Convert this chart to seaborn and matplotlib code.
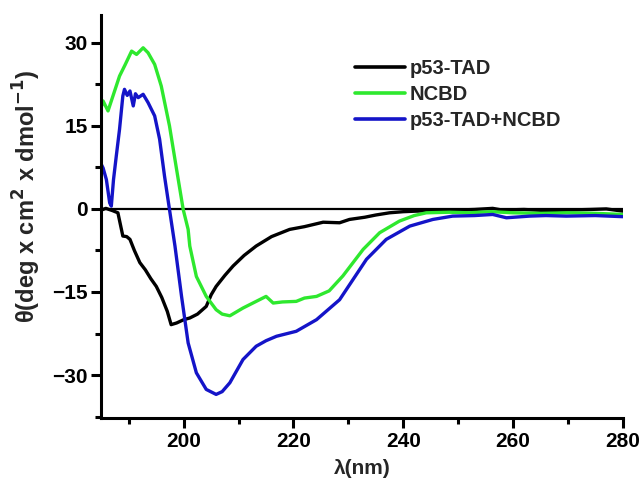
import matplotlib
matplotlib.use("Agg")
import matplotlib.pyplot as plt
import pandas as pd
import seaborn as sns

# values (wavelength in nm, ellipticity)
tad_x = [185.0, 185.8, 187.0, 188.0, 188.9, 189.6, 190.2, 191.0, 192.0, 193.0, 194.0,
         195.0, 196.0, 197.0, 197.7, 198.7, 200.0, 201.1, 202.5, 204.1, 205.0, 205.9,
         207.5, 209.0, 211.0, 213.2, 216.0, 219.3, 222.0, 225.4, 228.4, 230.2, 233.0,
         235.0, 237.5, 240.0, 242.4, 246.0, 250.0, 253.0, 256.3, 258.0, 262.0, 266.0,
         270.0, 274.0, 277.0, 280.0]
tad_y = [-0.2, 0.1, -0.3, -0.7, -4.9, -5.0, -5.5, -7.5, -9.7, -11.0, -12.6,
         -14.0, -16.0, -18.5, -20.9, -20.6, -20.0, -19.7, -19.0, -17.6, -15.5, -14.0,
         -12.0, -10.3, -8.4, -6.7, -5.0, -3.7, -3.2, -2.4, -2.5, -1.9, -1.5,
         -1.1, -0.7, -0.5, -0.4, -0.3, -0.2, -0.1, 0.1, -0.2, -0.1, -0.3,
         -0.2, -0.1, 0.0, -0.4]

ncbd_x = [185.0, 185.3, 186.2, 187.4, 188.3, 189.3, 190.5, 191.4, 192.6, 193.5, 194.7,
          195.9, 197.4, 198.7, 199.9, 200.8, 201.1, 202.3, 204.1, 205.9, 207.0, 208.4,
          210.8, 213.2, 215.0, 216.3, 218.0, 220.5, 222.0, 224.2, 226.5, 229.0, 232.7,
          235.7, 239.3, 242.0, 244.2, 248.4, 252.0, 256.0, 260.0, 265.0, 270.0, 275.0,
          280.0]
ncbd_y = [18.5, 19.5, 17.7, 21.3, 24.0, 26.0, 28.5, 27.9, 29.1, 28.2, 26.1,
          22.2, 15.0, 7.1, -0.1, -3.7, -6.7, -12.2, -15.8, -18.2, -19.0, -19.3,
          -17.9, -16.7, -15.8, -17.0, -16.8, -16.7, -16.1, -15.8, -14.8, -12.1, -7.3,
          -4.3, -2.2, -1.2, -0.7, -0.6, -0.7, -0.5, -0.7, -0.8, -0.7, -0.8,
          -1.0]

mix_x = [185.0, 185.3, 185.9, 186.5, 186.8, 187.2, 187.7, 188.3, 188.9, 189.2, 189.7,
         190.2, 190.8, 191.2, 191.7, 192.6, 193.5, 194.7, 195.6, 196.5, 197.4, 198.4,
         199.6, 200.8, 202.3, 204.1, 205.9, 207.0, 208.4, 210.8, 213.2, 215.0, 216.9,
         220.5, 224.2, 228.4, 233.3, 236.9, 241.2, 245.4, 249.0, 253.0, 256.3, 258.8,
         263.0, 266.0, 269.7, 275.0, 280.0]
mix_y = [8.0, 7.4, 5.3, 1.1, 0.5, 5.3, 9.5, 14.4, 20.4, 21.6, 20.5,
         21.3, 18.6, 20.8, 20.1, 20.7, 19.2, 16.8, 12.6, 5.9, -0.1, -6.7,
         -15.8, -24.2, -29.6, -32.6, -33.5, -33.0, -31.4, -27.2, -24.8, -23.8, -23.0,
         -22.1, -20.0, -16.4, -9.1, -5.5, -3.1, -1.9, -1.3, -1.2, -1.0, -1.6,
         -1.3, -1.2, -1.3, -1.2, -1.4]

labels = ["p53-TAD", "NCBD", "p53-TAD+NCBD"]
colors = ["#000000", "#2ee82e", "#1414c8"]

x_ticks = [200, 220, 240, 260, 280]
y_ticks = [-30, -15, 0, 15, 30]


def build_frame():
    parts = []
    for name, xs, ys in zip(labels, [tad_x, ncbd_x, mix_x], [tad_y, ncbd_y, mix_y]):
        parts.append(pd.DataFrame({"wavelength": xs, "theta": ys, "sample": name}))
    return pd.concat(parts, ignore_index=True)


def main():
    sns.set_theme(style="ticks")
    plt.rcParams["font.family"] = ["Liberation Sans", "DejaVu Sans"]
    plt.rcParams["font.weight"] = "bold"

    df = build_frame()

    fig = plt.figure(figsize=(6.42, 4.88), dpi=100)
    ax = fig.add_axes([0.158, 0.143, 0.812, 0.826])

    ax.axhline(0, color="black", linewidth=1.6, zorder=1)

    sns.lineplot(
        data=df, x="wavelength", y="theta", hue="sample",
        palette=dict(zip(labels, colors)), hue_order=labels,
        estimator=None, sort=False, linewidth=2.4, ax=ax
    )

    ax.set_xlim(185, 280)
    ax.set_ylim(-37.8, 35.0)
    ax.set_xticks(x_ticks)
    ax.set_yticks(y_ticks)
    ax.set_xticks([190, 210, 230, 250, 270], minor=True)
    ax.set_yticks([-37.5, -22.5, -7.5, 7.5, 22.5], minor=True)

    for side in ["top", "right"]:
        ax.spines[side].set_visible(False)
    for side in ["left", "bottom"]:
        ax.spines[side].set_linewidth(2.2)
        ax.spines[side].set_color("black")

    ax.tick_params(which="major", direction="out", length=7, width=2.2,
                   labelsize=15, colors="black", pad=3)
    ax.tick_params(which="minor", direction="out", length=4.5, width=2.2, colors="black")
    for lab in ax.get_xticklabels() + ax.get_yticklabels():
        lab.set_fontweight("bold")

    ax.set_xlabel("λ(nm)", fontsize=15, fontweight="bold", labelpad=6)
    ax.set_ylabel(r"θ(deg x cm$^\mathbf{2}$ x dmol$^\mathbf{-1}$)",
                  fontsize=17, fontweight="bold")
    ax.yaxis.set_label_coords(-0.112, 0.55)

    handles, _ = ax.get_legend_handles_labels()
    for h in handles:
        h.set_linewidth(2.6)
    ax.legend(handles, labels, loc="upper left", bbox_to_anchor=(0.471, 0.91),
              frameon=False, fontsize=14.5, handlelength=2.5, handletextpad=0.2,
              labelspacing=0.33, borderaxespad=0)
    for t in ax.get_legend().get_texts():
        t.set_fontweight("bold")

    fig.savefig("out.png", dpi=100, facecolor="white")
    plt.close(fig)


if __name__ == "__main__":
    main()
